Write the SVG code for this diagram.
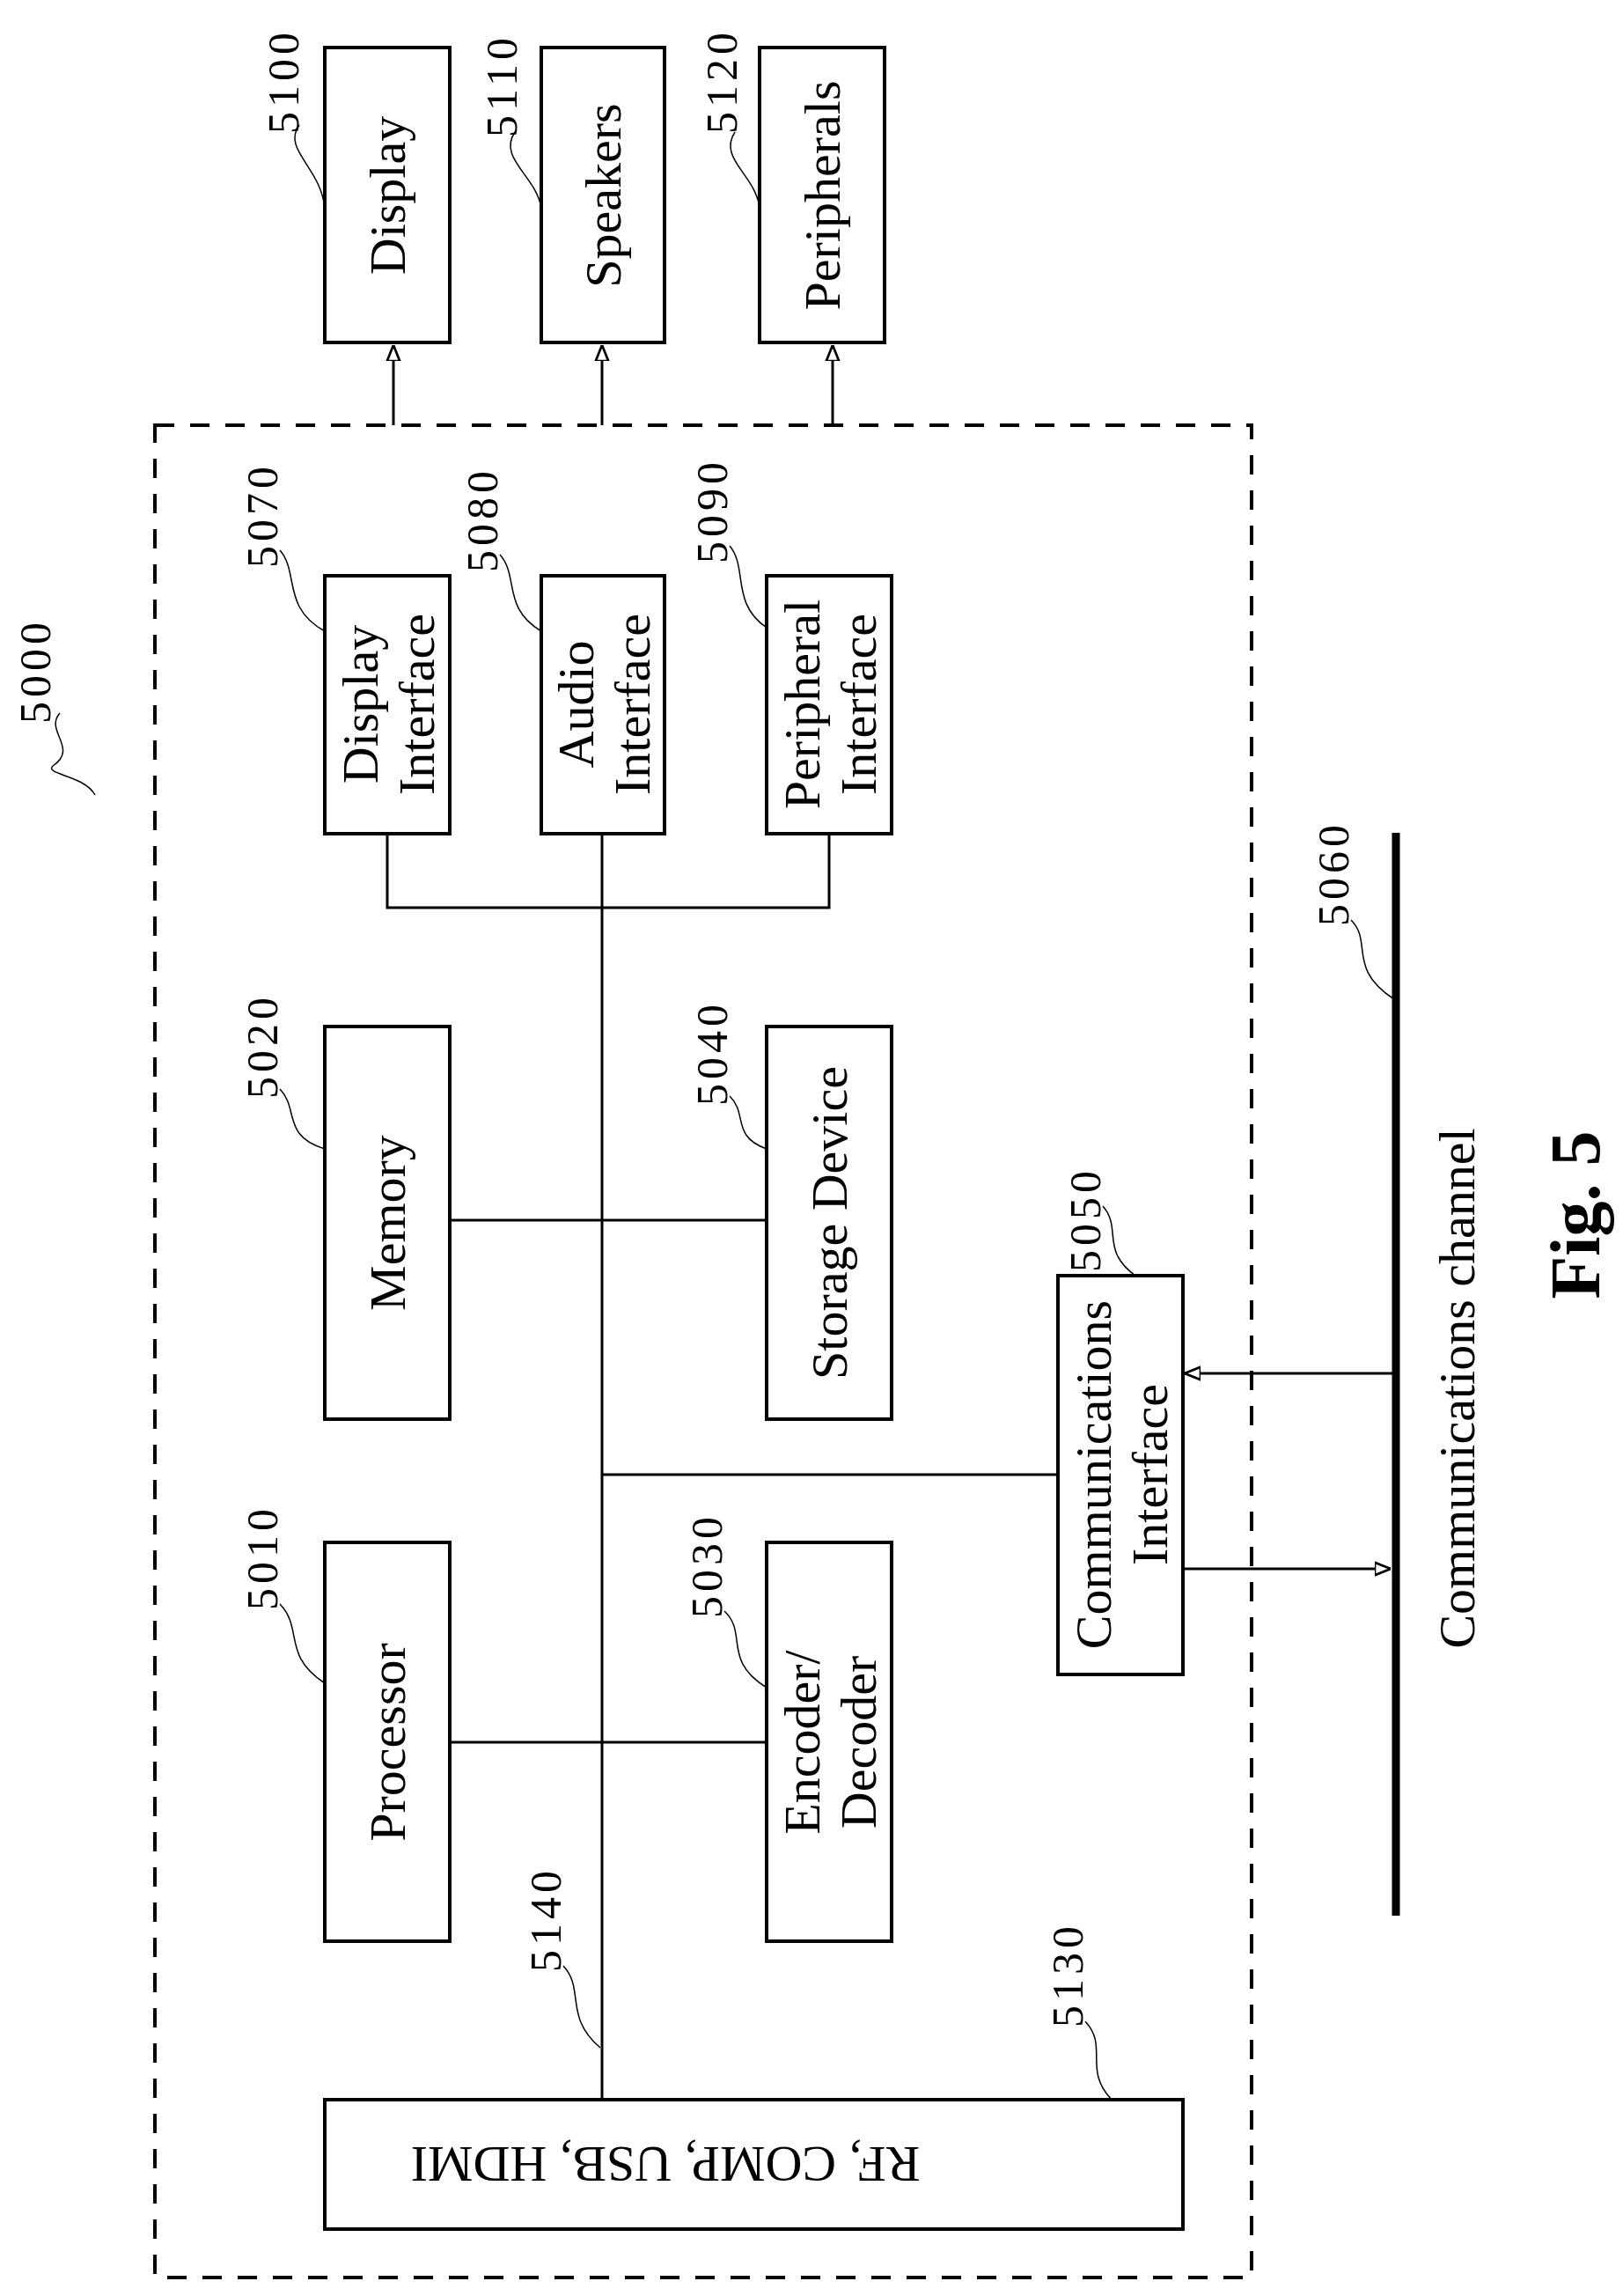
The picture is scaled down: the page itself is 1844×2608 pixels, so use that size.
<svg xmlns="http://www.w3.org/2000/svg" width="1844" height="2608" viewBox="0 0 1844 2608">
<style>
.b{fill:#fff;stroke:#000;stroke-width:4}
.t{font-family:"Liberation Serif",serif;font-size:58px;text-anchor:middle;dominant-baseline:central}
.n{font-family:"Liberation Serif",serif;font-size:50px;text-anchor:middle;dominant-baseline:central;letter-spacing:5px}
.l{fill:none;stroke:#000;stroke-width:3}
.ld{fill:none;stroke:#000;stroke-width:1.5}
</style>
<defs>
<marker id="a" viewBox="0 0 10 10" refX="10" refY="5" markerWidth="6" markerHeight="6" orient="auto"><path d="M0,1 L10,5 L0,9 Z" fill="#fff" stroke="#000" stroke-width="1.5"/></marker>
</defs>
<rect x="176" y="483" width="1246" height="2104" fill="none" stroke="#000" stroke-width="4" stroke-dasharray="22,18"/>
<g id="connectors">
<path class="l" d="M447,483 V392" marker-end="url(#a)"/>
<path class="l" d="M684,483 V392" marker-end="url(#a)"/>
<path class="l" d="M946,483 V392" marker-end="url(#a)"/>
<path class="l" d="M440,947 V1031 H942 V947 M684,947 V2385 M511,1386 H871 M511,1979 H871 M684,1675 H1202"/>
<path class="l" d="M1584,1560 H1346" marker-end="url(#a)"/>
<path class="l" d="M1344,1782 H1580" marker-end="url(#a)"/>
<line x1="1586" y1="946" x2="1586" y2="2176" stroke="#000" stroke-width="9"/>
</g>
<g id="n5100"><rect class="b" x="369" y="54" width="142" height="335"/><text class="t" transform="translate(440,222) rotate(-90)">Display</text><text class="n" transform="translate(322,92) rotate(-90)">5100</text><path class="ld" d="M340,142 C320,170 365,190 369,237"/></g>
<g id="n5110"><rect class="b" x="615" y="54" width="140" height="335"/><text class="t" transform="translate(685,222) rotate(-90)">Speakers</text><text class="n" transform="translate(570,97) rotate(-90)">5110</text><path class="ld" d="M585,150 C565,180 610,200 615,237"/></g>
<g id="n5120"><rect class="b" x="863" y="54" width="142" height="335"/><text class="t" transform="translate(934,222) rotate(-90)">Peripherals</text><text class="n" transform="translate(820,92) rotate(-90)">5120</text><path class="ld" d="M835,150 C815,180 860,200 863,237"/></g>
<g id="n5070"><rect class="b" x="369" y="654" width="142" height="293"/><text class="t" transform="translate(440,800) rotate(-90)"><tspan x="0" dy="-31">Display</tspan><tspan x="0" dy="64">Interface</tspan></text><text class="n" transform="translate(298,585) rotate(-90)">5070</text><path class="ld" d="M318,625 C340,650 320,690 369,717"/></g>
<g id="n5080"><rect class="b" x="615" y="654" width="140" height="293"/><text class="t" transform="translate(685,800) rotate(-90)"><tspan x="0" dy="-31">Audio</tspan><tspan x="0" dy="64">Interface</tspan></text><text class="n" transform="translate(548,590) rotate(-90)">5080</text><path class="ld" d="M568,630 C590,655 570,690 615,717"/></g>
<g id="n5090"><rect class="b" x="871" y="654" width="142" height="293"/><text class="t" transform="translate(942,800) rotate(-90)"><tspan x="0" dy="-31">Peripheral</tspan><tspan x="0" dy="64">Interface</tspan></text><text class="n" transform="translate(809,580) rotate(-90)">5090</text><path class="ld" d="M829,620 C850,645 830,685 871,713"/></g>
<g id="n5000"><text class="n" transform="translate(40,762) rotate(-90)">5000</text><path class="ld" d="M68,810 C50,830 90,850 60,870 C50,880 95,880 108,903"/></g>
<g id="n5020"><rect class="b" x="369" y="1166" width="142" height="446"/><text class="t" transform="translate(440,1389) rotate(-90)">Memory</text><text class="n" transform="translate(298,1188) rotate(-90)">5020</text><path class="ld" d="M318,1237 C340,1260 320,1290 369,1305"/></g>
<g id="n5040"><rect class="b" x="871" y="1166" width="142" height="446"/><text class="t" transform="translate(942,1389) rotate(-90)">Storage Device</text><text class="n" transform="translate(809,1196) rotate(-90)">5040</text><path class="ld" d="M829,1245 C850,1265 830,1290 871,1305"/></g>
<g id="n5050"><rect class="b" x="1202" y="1449" width="142" height="453"/><text class="t" transform="translate(1273,1675) rotate(-90)"><tspan x="0" dy="-31">Communications</tspan><tspan x="0" dy="64">Interface</tspan></text><text class="n" transform="translate(1233,1385) rotate(-90)">5050</text><path class="ld" d="M1253,1370 C1275,1395 1250,1420 1290,1449"/></g>
<g id="n5060"><text class="n" transform="translate(1515,992) rotate(-90)">5060</text><path class="ld" d="M1535,1045 C1560,1070 1530,1100 1584,1135"/></g>
<g id="n5010"><rect class="b" x="369" y="1752" width="142" height="453"/><text class="t" transform="translate(440,1979) rotate(-90)">Processor</text><text class="n" transform="translate(298,1769) rotate(-90)">5010</text><path class="ld" d="M318,1822 C345,1850 320,1880 369,1912"/></g>
<g id="n5030"><rect class="b" x="871" y="1752" width="142" height="453"/><text class="t" transform="translate(942,1979) rotate(-90)"><tspan x="0" dy="-31">Encoder/</tspan><tspan x="0" dy="64">Decoder</tspan></text><text class="n" transform="translate(803,1778) rotate(-90)">5030</text><path class="ld" d="M823,1830 C850,1855 820,1885 871,1917"/></g>
<g id="n5140"><text class="n" transform="translate(620,2180) rotate(-90)">5140</text><path class="ld" d="M640,2233 C665,2260 640,2290 682,2326"/></g>
<g id="n5130"><rect class="b" x="369" y="2385" width="975" height="147"/><text class="t" transform="translate(756,2458) rotate(180)">RF, COMP, USB, HDMI</text><text class="n" transform="translate(1213,2243) rotate(-90)">5130</text><path class="ld" d="M1233,2296 C1260,2325 1230,2350 1263,2385"/></g>
<text class="t" transform="translate(1655,1577) rotate(-90)">Communications channel</text>
<text class="t" style="font-size:80px;font-weight:bold" transform="translate(1790,1380) rotate(-90)">Fig. 5</text>
</svg>
